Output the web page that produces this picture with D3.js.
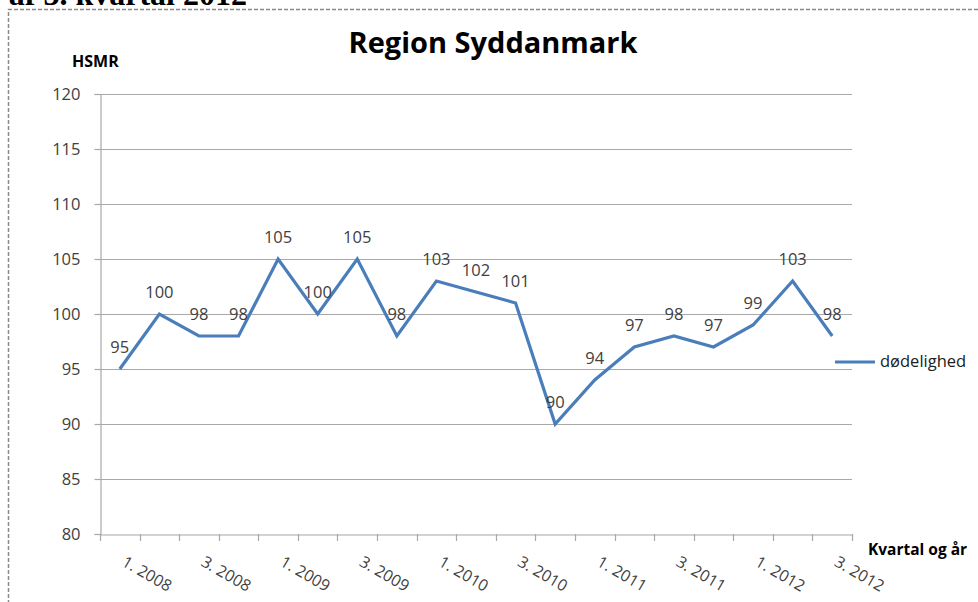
<!DOCTYPE html>
<html>
<head>
<meta charset="utf-8">
<script src="https://cdn.jsdelivr.net/npm/d3@7/dist/d3.min.js"></script>
<style>
html,body{margin:0;padding:0;background:#fff;}
svg{display:block;}
</style>
</head>
<body>
<svg id="chart" width="978" height="602"></svg>
<script>
const categories = ["1. 2008","2. 2008","3. 2008","4. 2008","1. 2009","2. 2009","3. 2009","4. 2009","1. 2010","2. 2010","3. 2010","4. 2010","1. 2011","2. 2011","3. 2011","4. 2011","1. 2012","2. 2012","3. 2012"];
const values = [95,100,98,98,105,100,105,98,103,102,101,90,94,97,98,97,99,103,98];
const yTicks = [80,85,90,95,100,105,110,115,120];
const seriesName = "dødelighed";
const title = "Region Syddanmark";
const yTitle = "HSMR";
const xTitle = "Kvartal og år";
const headerText = "af 3. kvartal 2012";

(function () {
const svg = d3.select("#chart");
const font = "'Open Sans', sans-serif";
const pLeft = 100, pRight = 852, pTop = 94, pBottom = 534;

// cut-off header and dashed frame
svg.append("text").attr("x", 247).attr("y", 5).attr("text-anchor", "end")
  .attr("font-family", "'Liberation Serif', serif").attr("font-weight", "bold")
  .attr("font-size", 32).attr("fill", "#000").text(headerText);
svg.append("path").attr("d", "M8.5,640 L8.5,9.5 L1000,9.5")
  .attr("fill", "none").attr("stroke", "#8a8a8a").attr("stroke-width", 1.5)
  .attr("stroke-dasharray", "4,2");

const x = d3.scaleBand().domain(categories).range([pLeft, pRight]).padding(0);
const y = d3.scaleLinear().domain([80, 120]).range([pBottom, pTop]);

// gridlines
svg.append("g").selectAll("line").data(yTicks.filter(t => t > 80)).join("line")
  .attr("x1", pLeft).attr("x2", pRight)
  .attr("y1", d => Math.round(y(d)) + 0.5).attr("y2", d => Math.round(y(d)) + 0.5)
  .attr("stroke", "#a8a8a8").attr("stroke-width", 1.2);

// y axis
const yAxis = svg.append("g").attr("transform", `translate(${pLeft + 0.5},0)`)
  .call(d3.axisLeft(y).tickValues(yTicks).tickSize(6).tickPadding(14));
yAxis.select(".domain").attr("stroke", "#a8a8a8").attr("stroke-width", 1.2);
yAxis.selectAll(".tick line").attr("stroke", "#a8a8a8").attr("stroke-width", 1.2);
yAxis.selectAll(".tick text").attr("font-family", font).attr("font-size", 16.5)
  .attr("fill", "#404040");

// x axis
const xAxis = svg.append("g").attr("transform", `translate(0,${pBottom + 0.5})`)
  .call(d3.axisBottom(x).tickSize(0).tickFormat(""));
xAxis.select(".domain").attr("stroke", "#a8a8a8").attr("stroke-width", 1.2);
// tick marks at band boundaries
const bounds = categories.map(c => x(c)).concat([pRight]);
svg.append("g").selectAll("line").data(bounds).join("line")
  .attr("x1", d => Math.round(d) + 0.5).attr("x2", d => Math.round(d) + 0.5)
  .attr("y1", pBottom).attr("y2", pBottom + 7)
  .attr("stroke", "#a8a8a8").attr("stroke-width", 1.2);

// rotated x labels (every 2nd)
svg.append("g").selectAll("text").data(categories.filter((c, i) => i % 2 === 0)).join("text")
  .attr("transform", d => `translate(${x(d) + x.bandwidth() / 2 + 1},${pBottom + 31}) rotate(30)`)
  .attr("font-family", font).attr("font-size", 16)
  .attr("fill", "#404040").text(d => d);

// line
const line = d3.line().x((d, i) => x(categories[i]) + x.bandwidth() / 2).y(d => y(d));
svg.append("path").datum(values).attr("d", line)
  .attr("fill", "none").attr("stroke", "#4a7ebb").attr("stroke-width", 3.2)
  .attr("stroke-linejoin", "miter");

// data labels
svg.append("g").selectAll("text").data(values).join("text")
  .attr("x", (d, i) => x(categories[i]) + x.bandwidth() / 2)
  .attr("y", d => y(d) - 16)
  .attr("text-anchor", "middle").attr("font-family", font).attr("font-size", 16.5)
  .attr("fill", "#404040").text(d => d);

// title
svg.append("text").attr("x", 493).attr("y", 53).attr("text-anchor", "middle")
  .attr("font-family", font).attr("font-weight", "bold").attr("font-size", 29)
  .attr("fill", "#000").text(title);

// axis titles
svg.append("text").attr("x", 72).attr("y", 67).attr("font-family", font)
  .attr("font-weight", "bold").attr("font-size", 16).attr("fill", "#000").text(yTitle);
svg.append("text").attr("x", 868).attr("y", 555).attr("font-family", font)
  .attr("font-weight", "bold").attr("font-size", 15.5).attr("fill", "#000").text(xTitle);

// legend
svg.append("line").attr("x1", 835).attr("x2", 875).attr("y1", 362).attr("y2", 362)
  .attr("stroke", "#4a7ebb").attr("stroke-width", 3.2);
svg.append("text").attr("x", 880).attr("y", 367).attr("font-family", font)
  .attr("font-size", 16.5).attr("fill", "#202020").text(seriesName);
})();
</script>
</body>
</html>
